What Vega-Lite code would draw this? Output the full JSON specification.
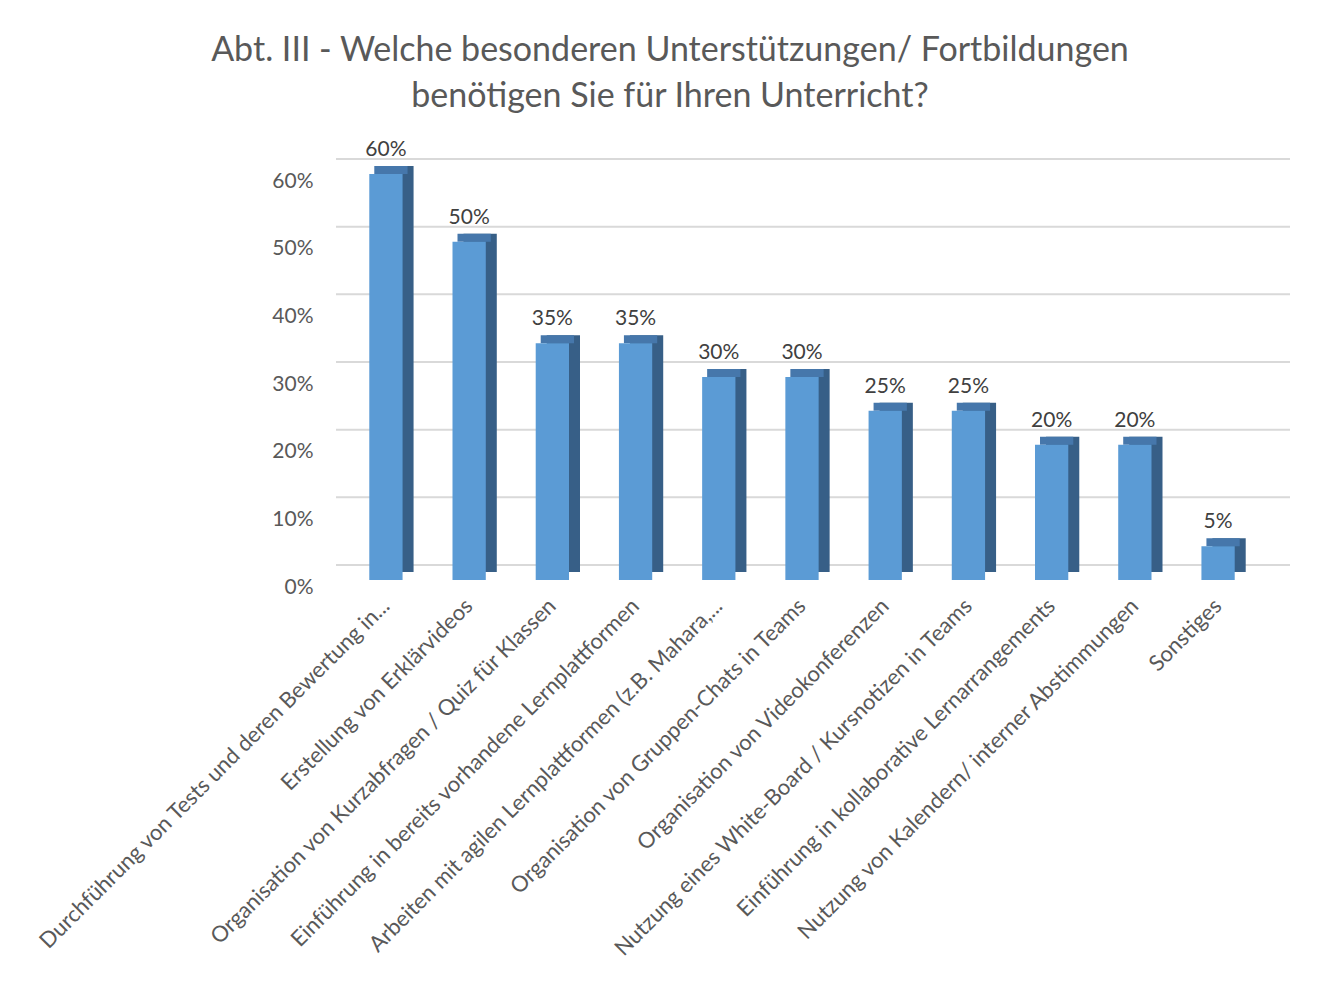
{
  "$schema": "https://vega.github.io/schema/vega-lite/v6.json",
  "autosize": "none",
  "width": 932,
  "height": 406,
  "padding": {"left": 336, "top": 174, "right": 69, "bottom": 412},
  "background": "white",
  "title": {
    "text": ["Abt. III - Welche besonderen Unterstützungen/ Fortbildungen", "benötigen Sie für Ihren Unterricht?"],
    "font": "Lato",
    "fontSize": 34,
    "fontWeight": "normal",
    "color": "#595959",
    "anchor": "middle",
    "dx": -132,
    "offset": 25,
    "lineHeight": 46
  },
  "config": {
    "view": {"stroke": null},
    "font": "Lato"
  },
  "data": {
    "values": [
      {"cat": "Durchführung von Tests und deren Bewertung in...", "value": 0.60},
      {"cat": "Erstellung von Erklärvideos", "value": 0.50},
      {"cat": "Organisation von Kurzabfragen / Quiz für Klassen", "value": 0.35},
      {"cat": "Einführung in bereits vorhandene Lernplattformen", "value": 0.35},
      {"cat": "Arbeiten mit agilen Lernplattformen (z.B. Mahara,...", "value": 0.30},
      {"cat": "Organisation von Gruppen-Chats in Teams", "value": 0.30},
      {"cat": "Organisation von Videokonferenzen", "value": 0.25},
      {"cat": "Nutzung eines White-Board / Kursnotizen in Teams", "value": 0.25},
      {"cat": "Einführung in kollaborative Lernarrangements", "value": 0.20},
      {"cat": "Nutzung von Kalendern/ interner Abstimmungen", "value": 0.20},
      {"cat": "Sonstiges", "value": 0.05}
    ]
  },
  "encoding": {
    "x": {
      "field": "cat",
      "type": "nominal",
      "sort": null,
      "scale": {"paddingInner": 0.6, "paddingOuter": 0.4},
      "axis": {
        "title": null,
        "domain": false,
        "ticks": false,
        "labelAngle": -45,
        "labelAlign": "right",
        "labelBaseline": "middle",
        "labelFontSize": 22,
        "labelColor": "#595959",
        "labelPadding": 22,
        "labelLimit": 0
      }
    }
  },
  "layer": [
    {
      "data": {"values": [{"t": 0}, {"t": 0.1}, {"t": 0.2}, {"t": 0.3}, {"t": 0.4}, {"t": 0.5}, {"t": 0.6}]},
      "mark": {"type": "rule", "color": "#d9d9d9", "strokeWidth": 2, "yOffset": -15, "xOffset": 22},
      "encoding": {
        "x": null,
        "y": {"field": "t", "type": "quantitative", "scale": {"domain": [0, 0.6], "nice": false}}
      }
    },
    {
      "mark": {"type": "bar", "color": "#375f87", "xOffset": 11, "yOffset": -8, "y2Offset": -8},
      "encoding": {
        "y": {
          "field": "value",
          "type": "quantitative",
          "scale": {"domain": [0, 0.6], "nice": false},
          "axis": {
            "title": null,
            "format": ".0%",
            "values": [0, 0.1, 0.2, 0.3, 0.4, 0.5, 0.6],
            "domain": false,
            "ticks": false,
            "grid": false,
            "labelFontSize": 21,
            "labelColor": "#595959",
            "labelPadding": 23,
            "labelOffset": 7
          }
        },
        "y2": {"datum": 0}
      }
    },
    {
      "mark": {"type": "bar", "color": "#4677ab", "xOffset": 5, "yOffset": -8, "y2Offset": 0},
      "encoding": {
        "y": {"field": "value", "type": "quantitative"},
        "y2": {"field": "value"}
      }
    },
    {
      "mark": {"type": "bar", "color": "#5b9bd5"},
      "encoding": {
        "y": {"field": "value", "type": "quantitative"}
      }
    },
    {
      "mark": {"type": "text", "baseline": "bottom", "dy": -14, "fontSize": 21, "color": "#404040"},
      "encoding": {
        "y": {"field": "value", "type": "quantitative"},
        "text": {"field": "value", "type": "quantitative", "format": ".0%"}
      }
    }
  ]
}
